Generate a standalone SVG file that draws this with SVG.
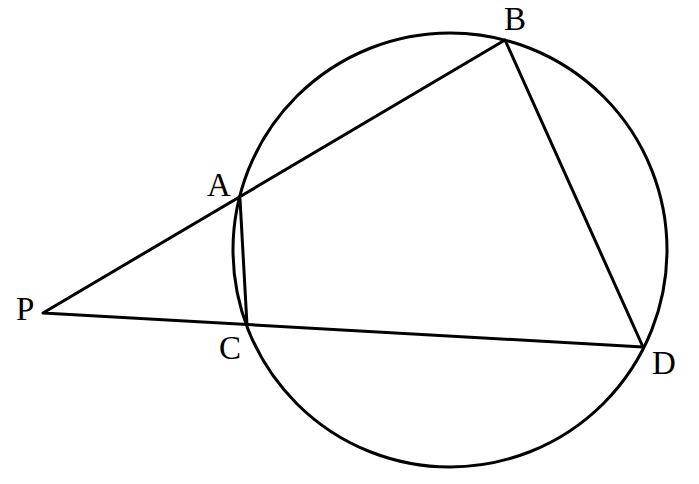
<svg xmlns="http://www.w3.org/2000/svg" width="699" height="484" viewBox="0 0 699 484">
<style>
.ln{fill:none;stroke:#000;stroke-width:3;stroke-linejoin:round;stroke-linecap:round}
.lb{font-family:"Liberation Serif","Times New Roman",serif;font-size:33px;fill:#000}
</style>
<rect width="699" height="484" fill="#fff"/>
<g id="circle"><circle class="ln" cx="450" cy="250" r="217"/></g>
<g id="connectors">
<polyline class="ln" points="505,40 43,313 643,347 505,40"/>
<line class="ln" x1="240" y1="199" x2="247" y2="325"/>
</g>
<g id="P"><text class="lb" x="16" y="320">P</text></g>
<g id="A"><text class="lb" x="207" y="196">A</text></g>
<g id="B"><text class="lb" x="504" y="30">B</text></g>
<g id="C"><text class="lb" x="219" y="359">C</text></g>
<g id="D"><text class="lb" x="652" y="374">D</text></g>
</svg>
